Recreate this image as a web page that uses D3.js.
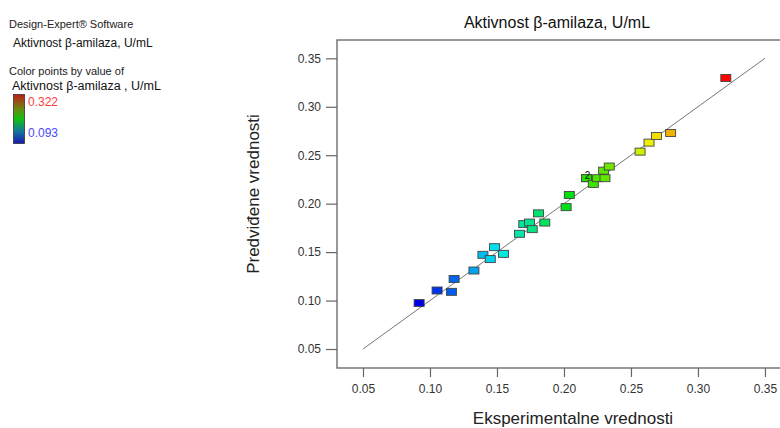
<!DOCTYPE html>
<html><head><meta charset="utf-8">
<script src="https://cdn.jsdelivr.net/npm/d3@7"></script>
<style>body{margin:0;background:#fff}svg{display:block;font-family:Arial,"Liberation Sans",sans-serif}</style>
</head><body><svg id="c" width="780" height="428"></svg>
<script>
const actual    = [0.0919,0.1053,0.1160,0.1180,0.1328,0.1395,0.1450,0.1482,0.1549,0.1668,0.1700,0.1743,0.1763,0.1810,0.1857,0.2016,0.2040,0.2169,0.2169,0.2219,0.2251,0.2306,0.2296,0.2338,0.2568,0.2635,0.2690,0.2796,0.3208];
const predicted = [0.0974,0.1104,0.1090,0.1222,0.1310,0.1472,0.1428,0.1551,0.1482,0.1689,0.1789,0.1805,0.1737,0.1900,0.1805,0.1964,0.2090,0.2263,0.2263,0.2204,0.2263,0.2263,0.2341,0.2383,0.2537,0.2630,0.2698,0.2729,0.3297];
const xTicks = [0.05,0.10,0.15,0.20,0.25,0.30,0.35];
const yTicks = [0.05,0.10,0.15,0.20,0.25,0.30,0.35];
const colorMin = 0.093, colorMax = 0.322;
const titleText = "Aktivnost β-amilaza, U/mL";
const xLabel = "Eksperimentalne vrednosti";
const yLabel = "Predviđene vrednosti";
const dupLabelIndex = 17; // point plotted twice, labelled "2"

const svg = d3.select("#c");
const x = d3.scaleLinear().domain([0.0306, 0.3687]).range([337, 790]);
const y = d3.scaleLinear().domain([0.0304, 0.3689]).range([368, 40]);

const col = d3.scaleLinear()
  .domain([0, 0.25, 0.5, 0.75, 1])
  .range(["#0000e8", "#00e8f0", "#00e000", "#f0f000", "#ff0000"])
  .interpolate(d3.interpolateRgb);
const tNorm = v => Math.max(0, Math.min(1, (v - colorMin) / (colorMax - colorMin)));

// frame
svg.append("path").attr("d", `M${x.range()[1]},40 H337 V368 H${x.range()[1]}`)
  .attr("fill", "none").attr("stroke", "#777").attr("stroke-width", 1.5);

// axes
const xAxis = d3.axisBottom(x).tickValues(xTicks).tickFormat(d3.format(".2f")).tickSize(9).tickSizeOuter(0);
const gx = svg.append("g").attr("transform", "translate(0,368)").call(xAxis);
gx.select(".domain").remove();
gx.selectAll("line").attr("stroke", "#666").attr("stroke-width", 1.2);
gx.selectAll("text").attr("font-size", 12).attr("fill", "#333").attr("dy", "1.1em");

const yAxis = d3.axisLeft(y).tickValues(yTicks).tickFormat(d3.format(".2f")).tickSize(11).tickSizeOuter(0);
const gy = svg.append("g").attr("transform", "translate(337,0)").call(yAxis);
gy.select(".domain").remove();
gy.selectAll("line").attr("stroke", "#666").attr("stroke-width", 1.2);
gy.selectAll("text").attr("font-size", 12).attr("fill", "#333").attr("x", -16);

// diagonal
svg.append("line")
  .attr("x1", x(0.05)).attr("y1", y(0.05)).attr("x2", x(0.35)).attr("y2", y(0.35))
  .attr("stroke", "#777").attr("stroke-width", 1);

// points
const data = actual.map((a, i) => ({a, p: predicted[i], i}));
svg.append("g").selectAll("rect").data(data).join("rect")
  .attr("x", d => x(d.a) - 5).attr("y", d => y(d.p) - 3.5)
  .attr("width", 10).attr("height", 7)
  .attr("fill", d => col(tNorm(d.a)))
  .attr("stroke", "#444").attr("stroke-width", 0.9);
svg.append("text").attr("x", x(actual[dupLabelIndex]) + 1).attr("y", y(predicted[dupLabelIndex]) + 1)
  .attr("font-size", 10).attr("fill", "#111").attr("text-anchor", "middle").text("2");

// titles
svg.append("text").attr("x", 557).attr("y", 28).attr("text-anchor", "middle")
  .attr("font-size", 16).attr("fill", "#111").text(titleText);
svg.append("text").attr("x", 573).attr("y", 424).attr("text-anchor", "middle")
  .attr("font-size", 17).attr("fill", "#222").text(xLabel);
svg.append("text").attr("transform", "translate(259,194) rotate(-90)").attr("text-anchor", "middle")
  .attr("font-size", 17).attr("fill", "#222").text(yLabel);

// legend
const L = svg.append("g");
L.append("text").attr("x", 9).attr("y", 28).attr("font-size", 11).attr("fill", "#222").text("Design-Expert® Software");
L.append("text").attr("x", 13).attr("y", 47).attr("font-size", 12).attr("fill", "#111").text("Aktivnost β-amilaza, U/mL");
L.append("text").attr("x", 9).attr("y", 75).attr("font-size", 11).attr("fill", "#222").text("Color points by value of");
L.append("text").attr("x", 12).attr("y", 90).attr("font-size", 12.5).attr("fill", "#111").text("Aktivnost β-amilaza , U/mL");
const defs = svg.append("defs");
const grad = defs.append("linearGradient").attr("id", "lg").attr("x1", 0).attr("y1", 0).attr("x2", 0).attr("y2", 1);
[["0%", "#c01c18"], ["30%", "#6a8a10"], ["50%", "#10c010"], ["75%", "#10789c"], ["100%", "#1818b0"]]
  .forEach(([o, c]) => grad.append("stop").attr("offset", o).attr("stop-color", c));
L.append("rect").attr("x", 13.5).attr("y", 94.5).attr("width", 11).attr("height", 49)
  .attr("fill", "url(#lg)").attr("stroke", "#333").attr("stroke-width", 0.8);
L.append("text").attr("x", 28).attr("y", 106).attr("font-size", 12).attr("fill", "#ff3c3c").text(colorMax.toFixed(3));
L.append("text").attr("x", 28).attr("y", 137).attr("font-size", 12).attr("fill", "#4a4aff").text(colorMin.toFixed(3));
</script></body></html>
